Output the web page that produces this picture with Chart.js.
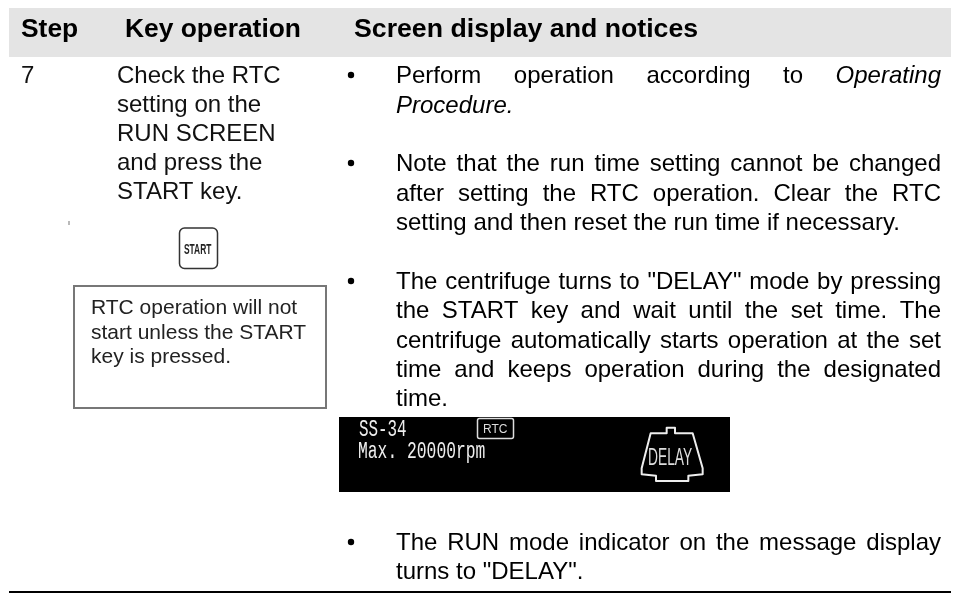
<!DOCTYPE html>
<html>
<head>
<meta charset="utf-8">
<style>html,body{margin:0;padding:0;background:#fff}canvas{display:block;filter:blur(0.35px)}</style>
<script src="https://cdn.jsdelivr.net/npm/chart.js@4"></script>
</head>
<body>
<canvas id="c" width="962" height="593"></canvas>
<script>
const headers = ["Step", "Key operation", "Screen display and notices"];
const stepNumber = "7";
const keyOperation = ["Check the RTC", "setting on the", "RUN SCREEN", "and press the", "START key."];
const startKey = "START";
const rtcNote = ["RTC operation will not", "start unless the START", "key is pressed."];
const notice1 = [["Perform operation according to _Operating", 1], ["_Procedure.", 0]];
const notice2 = [["Note that the run time setting cannot be changed", 1], ["after setting the RTC operation. Clear the RTC", 1], ["setting and then reset the run time if necessary.", 0]];
const notice3 = [["The centrifuge turns to \"DELAY\" mode by pressing", 1], ["the START key and wait until the set time. The", 1], ["centrifuge automatically starts operation at the set", 1], ["time and keeps operation during the designated", 1], ["time.", 0]];
const notice4 = [["The RUN mode indicator on the message display", 1], ["turns to \"DELAY\".", 0]];
const screenLines = ["SS-34", "Max. 20000rpm"];
const screenBadge = "RTC";
const screenMode = "DELAY";

const SANS = '"Liberation Sans", Arial, sans-serif';

function drawLine(ctx, text, justify, left, right, y, size) {
  const words = text.split(" ").map(w => ({ it: w[0] === "_", t: w.replace(/^_/, "") }));
  const font = w => (w.it ? "italic " : "") + size + "px " + SANS;
  let total = 0;
  words.forEach(w => { ctx.font = font(w); w.w = ctx.measureText(w.t).width; total += w.w; });
  ctx.font = size + "px " + SANS;
  const gap = justify ? (right - left - total) / (words.length - 1) : ctx.measureText(" ").width;
  let x = left;
  words.forEach(w => { ctx.font = font(w); ctx.fillText(w.t, x, y); x += w.w + gap; });
}

function drawBlock(ctx, lines, firstBaseline, step) {
  const L = 396, R = 941;
  ctx.beginPath();
  ctx.arc(351, firstBaseline - 8, 3.2, 0, Math.PI * 2);
  ctx.fill();
  lines.forEach((l, i) => drawLine(ctx, l[0], !!l[1], L, R, firstBaseline + i * step, 24));
}

function scaledText(ctx, text, x, y, font, sx) {
  ctx.save();
  ctx.translate(x, y);
  ctx.scale(sx, 1);
  ctx.font = font;
  ctx.fillText(text, 0, 0);
  ctx.restore();
}

const pagePlugin = {
  id: "page",
  afterDraw(chart) {
    const ctx = chart.ctx;
    ctx.save();
    ctx.textBaseline = "alphabetic";
    ctx.textAlign = "left";
    // header band
    ctx.fillStyle = "#e4e4e4";
    ctx.fillRect(9, 8, 942, 49);
    ctx.fillStyle = "#000";
    ctx.font = "bold 26.4px " + SANS;
    ctx.fillText(headers[0], 21, 37);
    ctx.fillText(headers[1], 125, 37);
    ctx.font = "bold 26.7px " + SANS;
    ctx.fillText(headers[2], 354, 37);
    // step and key column
    ctx.font = "24px " + SANS;
    ctx.fillStyle = "#111";
    ctx.fillText(stepNumber, 21, 83);
    keyOperation.forEach((t, i) => ctx.fillText(t, 117, 83 + i * 29));
    // stray tick
    ctx.fillStyle = "#777";
    ctx.fillRect(68.5, 221, 1, 4);
    // START key
    ctx.strokeStyle = "#333";
    ctx.lineWidth = 1.5;
    ctx.beginPath();
    ctx.roundRect(179.5, 228, 38, 40.5, 5);
    ctx.stroke();
    ctx.fillStyle = "#222";
    scaledText(ctx, startKey, 184, 254, "bold 15px " + SANS, 0.56);
    // note box
    ctx.strokeStyle = "#777";
    ctx.lineWidth = 2;
    ctx.strokeRect(74, 286, 252, 122);
    ctx.fillStyle = "#222";
    ctx.font = "21px " + SANS;
    rtcNote.forEach((t, i) => ctx.fillText(t, 91, 314 + i * 24.5));
    // notices
    ctx.fillStyle = "#000";
    drawBlock(ctx, notice1, 83, 30);
    drawBlock(ctx, notice2, 171, 29.5);
    drawBlock(ctx, notice3, 289, 29.3);
    drawBlock(ctx, notice4, 550, 29);
    // screen
    ctx.fillStyle = "#000";
    ctx.fillRect(339, 417, 391, 75);
    ctx.fillStyle = "#eee";
    const mono = '23px "Liberation Mono", monospace';
    scaledText(ctx, screenLines[0], 359, 436, mono, 0.69);
    scaledText(ctx, screenLines[1], 358, 458, mono, 0.71);
    ctx.strokeStyle = "#ddd";
    ctx.lineWidth = 1.5;
    ctx.beginPath();
    ctx.roundRect(477.5, 418.5, 36, 20, 2);
    ctx.stroke();
    ctx.fillStyle = "#ddd";
    scaledText(ctx, screenBadge, 483, 433, "12px " + SANS, 1);
    // DELAY indicator
    ctx.strokeStyle = "#eee";
    ctx.lineWidth = 2;
    ctx.lineJoin = "round";
    const x0 = 620, y0 = 415;
    const icon = [[140,38],[165,38],[165,55],[218,55],[248,160],[248,178],[205,182],[205,198],[108,198],[108,182],[65,178],[65,160],[92,55],[140,55]];
    ctx.beginPath();
    icon.forEach((p, i) => { const X = x0 + p[0] / 3, Y = y0 + p[1] / 3; i ? ctx.lineTo(X, Y) : ctx.moveTo(X, Y); });
    ctx.closePath();
    ctx.stroke();
    ctx.fillStyle = "#ddd";
    scaledText(ctx, screenMode, 648, 465, "23px " + SANS, 0.6);
    // bottom rule
    ctx.fillStyle = "#000";
    ctx.fillRect(9, 591, 942, 2);
    ctx.restore();
  }
};

new Chart(document.getElementById("c"), {
  type: "scatter",
  data: { datasets: [] },
  options: {
    responsive: false,
    animation: false,
    events: [],
    plugins: { legend: { display: false }, tooltip: { enabled: false } },
    scales: { x: { display: false }, y: { display: false } }
  },
  plugins: [pagePlugin]
});
</script>
</body>
</html>
